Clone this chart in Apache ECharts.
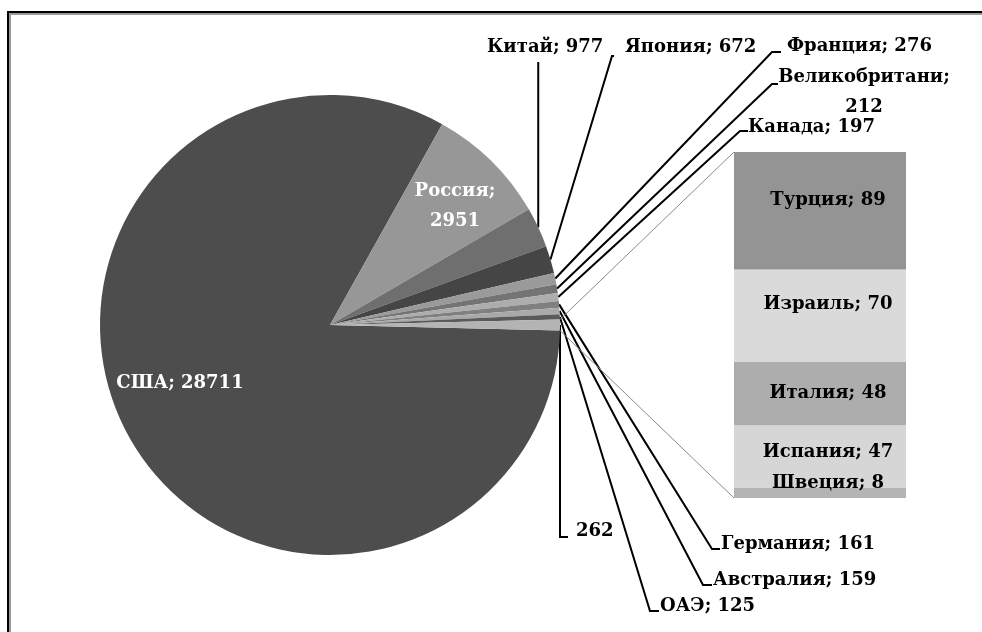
<!DOCTYPE html>
<html>
<head>
<meta charset="utf-8">
<script src="https://cdn.jsdelivr.net/npm/echarts@6/dist/echarts.min.js"></script>
<style>
  html, body { margin: 0; padding: 0; background: #fff; }
  #chart { width: 982px; height: 632px; }
</style>
</head>
<body>
<div id="chart"></div>
<script>
  // pie slices, clockwise; the last one is the "other" slice opened as the bar
  const pieNames = ['США', 'Россия', 'Китай', 'Япония', 'Франция', 'Великобритани', 'Канада', 'Германия', 'Австралия', 'ОАЭ', 'Прочие'];
  const pieValues = [28711, 2951, 977, 672, 276, 212, 197, 161, 159, 125, 262];
  const pieColors = ['#4d4d4d', '#979797', '#6f6f6f', '#454545', '#9a9a9a', '#747474', '#adadad', '#808080', '#a9a9a9', '#5a5a5a', '#b4b4b4'];

  // the bar, bottom to top
  const barNames = ['Швеция', 'Испания', 'Италия', 'Израиль', 'Турция'];
  const barValues = [8, 47, 48, 70, 89];
  const barColors = ['#b4b4b4', '#d6d6d6', '#adadad', '#dadada', '#949494'];

  const font = 'DejaVu Serif';
  const fontSize = 18;
  const center = [330, 325];
  const radius = 230;
  const total = pieValues.reduce((a, b) => a + b, 0);
  const otherAngle = pieValues[pieValues.length - 1] / total * 360;
  const startAngle = -otherAngle / 2;

  // where each pie label sits (x, y, align) and where its leader line bends
  const spots = [
    {x: 180, y: 383, align: 'center'},
    {x: 455, y: 206, align: 'center'},
    {x: 487, y: 47, align: 'left', line: 'vertical', end: 62},
    {x: 625, y: 47, align: 'left', bend: [612, 56], end: [614, 56]},
    {x: 787, y: 46, align: 'left', bend: [772, 52], end: [781, 52]},
    {x: 864, y: 92, align: 'center', bend: [772, 84], end: [778, 84]},
    {x: 748, y: 127, align: 'left', bend: [740, 131], end: [748, 131]},
    {x: 721, y: 544, align: 'left', bend: [712, 549], end: [720, 549]},
    {x: 713, y: 580, align: 'left', bend: [703, 585], end: [712, 585]},
    {x: 660, y: 606, align: 'left', bend: [650, 611], end: [659, 611]},
    {x: 576, y: 531, align: 'left', line: 'vertical', end: 537, tail: 8}
  ];
  // nudges of the labels inside the bar, bottom to top
  const barLabelShift = [[8, -9], [8, -4], [8, 0], [8, -11], [8, -10]];

  let myChart = echarts.init(document.getElementById('chart'));

  const pieData = pieNames.map(function (n, i) {
    const item = {name: n, value: pieValues[i], itemStyle: {color: pieColors[i]}};
    if (i < 2) {
      item.label = {position: 'inside', color: '#fff'};
      item.labelLine = {show: false};
    }
    return item;
  });

  const barSeries = barNames.map(function (n, i) {
    return {
      name: n,
      type: 'bar',
      stack: 'other',
      barWidth: '100%',
      data: [barValues[i]],
      itemStyle: {color: barColors[i]},
      label: {
        show: true,
        position: 'inside',
        formatter: '{a}; {c}',
        color: '#000',
        fontFamily: font,
        fontWeight: 'bold',
        fontSize: fontSize,
        offset: barLabelShift[i]
      },
      silent: true
    };
  });

  myChart.setOption({
    backgroundColor: '#fff',
    animation: false,
    grid: {left: 734, top: 152, width: 172, height: 346},
    xAxis: {type: 'category', data: [''], show: false},
    yAxis: {type: 'value', min: 0, max: barValues.reduce((a, b) => a + b, 0), show: false},
    series: [{
      type: 'pie',
      center: center,
      radius: radius,
      startAngle: startAngle,
      clockwise: true,
      avoidLabelOverlap: false,
      silent: true,
      data: pieData,
      label: {
        show: true,
        color: '#000',
        fontFamily: font,
        fontWeight: 'bold',
        fontSize: fontSize,
        lineHeight: 30,
        formatter: function (p) {
          if (p.dataIndex === pieNames.length - 1) return String(p.value);
          if (p.dataIndex === 1 || p.dataIndex === 5) return p.name + ';\n' + p.value;
          return p.name + '; ' + p.value;
        }
      },
      labelLine: {show: true, lineStyle: {color: '#000', width: 2}},
      labelLayout: function (params) {
        const s = spots[params.dataIndex];
        const out = {x: s.x, y: s.y, align: s.align, verticalAlign: 'middle'};
        const pts = params.labelLinePoints;
        if (pts && params.dataIndex > 1) {
          const p0 = pts[0];
          if (s.line === 'vertical') {
            out.labelLinePoints = [p0, [p0[0], s.end], [p0[0] + (s.tail || 0), s.end]];
          } else {
            out.labelLinePoints = [p0, s.bend, s.end];
          }
        }
        return out;
      }
    }].concat(barSeries)
  });

  // connectors from the "other" slice to the bar
  const gridRect = myChart.getModel().getComponent('grid', 0).coordinateSystem.getRect();
  function piePoint(deg) {
    const a = deg * Math.PI / 180;
    return [center[0] + radius * Math.cos(a), center[1] - radius * Math.sin(a)];
  }
  const upper = piePoint(otherAngle / 2);
  const lower = piePoint(-otherAngle / 2);
  myChart.setOption({
    graphic: [
      {type: 'line', shape: {x1: upper[0], y1: upper[1], x2: gridRect.x, y2: gridRect.y}, style: {stroke: '#8a8a8a', lineWidth: 1}, z: 5},
      {type: 'line', shape: {x1: lower[0], y1: lower[1], x2: gridRect.x, y2: gridRect.y + gridRect.height}, style: {stroke: '#8a8a8a', lineWidth: 1}, z: 5},
      {type: 'rect', shape: {x: 8, y: 12, width: 1000, height: 700}, style: {fill: null, stroke: '#000', lineWidth: 2}, z: 10},
      {type: 'rect', shape: {x: 10, y: 14, width: 1000, height: 700}, style: {fill: null, stroke: '#9a9a9a', lineWidth: 2}, z: 10}
    ]
  });
</script>
</body>
</html>
